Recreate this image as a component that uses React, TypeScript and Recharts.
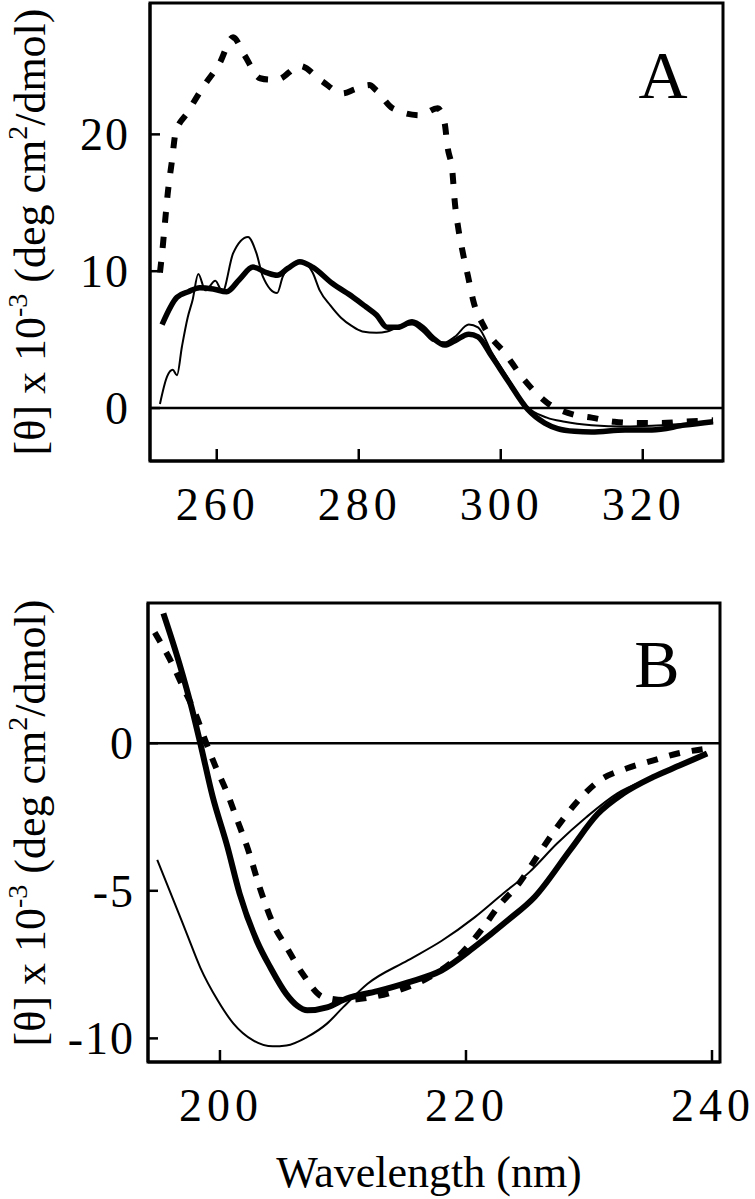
import {
  LineChart,
  Line,
  XAxis,
  YAxis,
  ReferenceLine,
  ReferenceArea,
} from "recharts";

// Panel A: near-UV CD spectra (wavelength nm, [theta] x 10^-3)
const nearUvDashed = [
  { nm: 252.0, v: 9.9 }, { nm: 252.3, v: 11.3 }, { nm: 252.7, v: 13.5 }, { nm: 253.1, v: 15.7 },
  { nm: 253.7, v: 18.1 }, { nm: 254.2, v: 20.1 }, { nm: 255.9, v: 21.6 }, { nm: 258.0, v: 23.4 },
  { nm: 260.4, v: 25.2 }, { nm: 262.3, v: 27.1 }, { nm: 263.9, v: 25.8 }, { nm: 266.1, v: 24.1 },
  { nm: 267.5, v: 24.0 }, { nm: 268.5, v: 24.0 }, { nm: 271.7, v: 25.0 }, { nm: 274.8, v: 23.9 },
  { nm: 277.7, v: 23.0 }, { nm: 279.5, v: 23.3 }, { nm: 281.5, v: 23.6 }, { nm: 282.5, v: 23.2 },
  { nm: 284.8, v: 21.9 }, { nm: 288.6, v: 21.4 }, { nm: 291.1, v: 21.9 }, { nm: 292.1, v: 20.8 },
  { nm: 292.5, v: 19.1 }, { nm: 293.2, v: 17.2 }, { nm: 293.5, v: 15.2 }, { nm: 294.0, v: 13.2 },
  { nm: 294.6, v: 11.5 }, { nm: 295.4, v: 9.6 }, { nm: 296.1, v: 7.9 }, { nm: 297.7, v: 5.9 },
  { nm: 300.6, v: 4.0 }, { nm: 303.4, v: 2.0 }, { nm: 306.5, v: 0.4 }, { nm: 310.4, v: -0.5 },
  { nm: 312.8, v: -0.7 }, { nm: 316.0, v: -1.0 }, { nm: 319.9, v: -1.1 }, { nm: 322.7, v: -1.1 },
  { nm: 325.9, v: -1.0 }, { nm: 329.9, v: -0.9 },
];

const nearUvThick = [
  { nm: 252.3, v: 6.1 }, { nm: 254.4, v: 8.1 }, { nm: 256.0, v: 8.5 }, { nm: 257.6, v: 8.8 },
  { nm: 259.5, v: 8.7 }, { nm: 261.4, v: 8.5 }, { nm: 263.2, v: 9.4 }, { nm: 265.1, v: 10.3 },
  { nm: 267.0, v: 9.9 }, { nm: 268.5, v: 9.7 }, { nm: 270.0, v: 10.2 }, { nm: 271.7, v: 10.7 },
  { nm: 273.5, v: 10.3 }, { nm: 276.3, v: 9.1 }, { nm: 279.2, v: 8.1 }, { nm: 281.0, v: 7.4 },
  { nm: 282.5, v: 6.8 }, { nm: 284.0, v: 5.9 }, { nm: 285.5, v: 5.9 }, { nm: 287.5, v: 6.3 },
  { nm: 289.0, v: 5.9 }, { nm: 290.5, v: 5.1 }, { nm: 292.1, v: 4.6 }, { nm: 293.5, v: 4.9 },
  { nm: 295.5, v: 5.4 }, { nm: 296.8, v: 5.2 }, { nm: 298.7, v: 3.8 }, { nm: 301.0, v: 2.0 },
  { nm: 303.8, v: -0.1 }, { nm: 306.2, v: -1.1 }, { nm: 308.0, v: -1.5 }, { nm: 310.4, v: -1.7 },
  { nm: 312.8, v: -1.75 }, { nm: 317.5, v: -1.6 }, { nm: 321.3, v: -1.6 }, { nm: 325.9, v: -1.25 },
  { nm: 329.9, v: -1.0 },
];

const nearUvThin = [
  { nm: 252.0, v: 0.3 }, { nm: 253.0, v: 2.3 }, { nm: 253.8, v: 2.8 }, { nm: 254.4, v: 2.4 },
  { nm: 255.1, v: 4.5 }, { nm: 255.9, v: 6.6 }, { nm: 256.6, v: 7.9 }, { nm: 257.4, v: 9.8 },
  { nm: 258.4, v: 8.6 }, { nm: 259.8, v: 9.3 }, { nm: 260.8, v: 8.5 }, { nm: 262.3, v: 11.3 },
  { nm: 264.4, v: 12.5 }, { nm: 265.6, v: 11.3 }, { nm: 266.5, v: 9.6 }, { nm: 268.5, v: 8.4 },
  { nm: 269.3, v: 9.6 }, { nm: 270.7, v: 10.5 }, { nm: 272.3, v: 10.6 }, { nm: 273.5, v: 9.9 },
  { nm: 274.5, v: 8.6 }, { nm: 276.0, v: 7.5 }, { nm: 277.5, v: 6.6 }, { nm: 279.0, v: 6.0 },
  { nm: 280.5, v: 5.6 }, { nm: 282.5, v: 5.5 }, { nm: 284.0, v: 5.6 }, { nm: 285.5, v: 5.9 },
  { nm: 287.5, v: 6.1 }, { nm: 289.0, v: 5.6 }, { nm: 290.5, v: 4.9 }, { nm: 292.1, v: 4.8 },
  { nm: 293.5, v: 5.2 }, { nm: 295.5, v: 6.1 }, { nm: 296.8, v: 5.9 }, { nm: 298.7, v: 4.1 },
  { nm: 301.0, v: 2.2 }, { nm: 303.5, v: 0.2 }, { nm: 306.5, v: -0.7 }, { nm: 309.0, v: -1.0 },
  { nm: 312.8, v: -1.25 }, { nm: 317.5, v: -1.35 }, { nm: 321.3, v: -1.3 }, { nm: 325.9, v: -1.15 },
  { nm: 329.9, v: -1.0 },
];

// Panel B: far-UV CD spectra
const farUvDashed = [
  { nm: 194.7, v: 3.75 }, { nm: 196.1, v: 2.7 }, { nm: 197.0, v: 1.9 }, { nm: 198.1, v: 0.9 },
  { nm: 198.8, v: 0.1 }, { nm: 199.6, v: -0.75 }, { nm: 200.6, v: -1.7 }, { nm: 201.4, v: -2.6 },
  { nm: 202.2, v: -3.5 }, { nm: 203.4, v: -5.1 }, { nm: 204.3, v: -6.1 }, { nm: 205.4, v: -6.9 },
  { nm: 206.7, v: -7.8 }, { nm: 208.4, v: -8.6 }, { nm: 210.3, v: -8.7 }, { nm: 212.4, v: -8.6 },
  { nm: 215.0, v: -8.3 }, { nm: 216.7, v: -8.0 }, { nm: 219.3, v: -7.25 }, { nm: 221.3, v: -6.3 },
  { nm: 222.6, v: -5.55 }, { nm: 224.4, v: -4.7 }, { nm: 226.0, v: -3.7 }, { nm: 227.4, v: -2.85 },
  { nm: 229.0, v: -2.0 }, { nm: 230.9, v: -1.25 }, { nm: 233.1, v: -0.85 }, { nm: 235.1, v: -0.6 },
  { nm: 237.2, v: -0.35 }, { nm: 239.3, v: -0.2 },
];

const farUvThick = [
  { nm: 195.4, v: 4.4 }, { nm: 196.7, v: 2.7 }, { nm: 197.7, v: 1.2 }, { nm: 198.4, v: 0 },
  { nm: 199.4, v: -1.8 }, { nm: 200.6, v: -3.5 }, { nm: 201.6, v: -5.1 }, { nm: 203.0, v: -6.7 },
  { nm: 204.1, v: -7.6 }, { nm: 205.4, v: -8.5 }, { nm: 206.3, v: -8.9 }, { nm: 207.1, v: -9.05 },
  { nm: 208.7, v: -8.95 }, { nm: 210.3, v: -8.65 }, { nm: 212.8, v: -8.4 }, { nm: 215.3, v: -8.1 },
  { nm: 218.0, v: -7.7 }, { nm: 220.7, v: -6.9 }, { nm: 223.4, v: -6.0 }, { nm: 225.6, v: -5.2 },
  { nm: 228.5, v: -3.6 }, { nm: 230.7, v: -2.4 }, { nm: 232.8, v: -1.7 }, { nm: 235.2, v: -1.15 },
  { nm: 237.4, v: -0.75 }, { nm: 239.6, v: -0.35 },
];

const farUvThin = [
  { nm: 194.9, v: -3.95 }, { nm: 196.2, v: -5.3 }, { nm: 197.3, v: -6.45 }, { nm: 198.4, v: -7.6 },
  { nm: 199.8, v: -8.7 }, { nm: 201.1, v: -9.5 }, { nm: 202.7, v: -10.07 }, { nm: 204.3, v: -10.27 },
  { nm: 205.4, v: -10.24 }, { nm: 207.1, v: -9.95 }, { nm: 208.7, v: -9.5 }, { nm: 210.0, v: -8.95 },
  { nm: 212.0, v: -8.15 }, { nm: 215.3, v: -7.35 }, { nm: 218.0, v: -6.7 }, { nm: 220.7, v: -5.9 },
  { nm: 223.0, v: -5.1 }, { nm: 225.2, v: -4.35 }, { nm: 227.4, v: -3.4 }, { nm: 229.8, v: -2.5 },
  { nm: 232.3, v: -1.7 }, { nm: 235.2, v: -1.15 }, { nm: 237.4, v: -0.75 }, { nm: 239.6, v: -0.35 },
];

const ticksAX = [260, 280, 300, 320];
const ticksAY = [0, 10, 20];
const ticksBX = [200, 220, 240];
const ticksBY = [-10, -5, 0];

const SERIF = '"Liberation Serif", "Times New Roman", serif';

const XTick = (props: any) => {
  const { x, y, payload } = props;
  return (
    <g>
      <line x1={x} y1={y} x2={x} y2={y - 12} stroke="#000" strokeWidth={2.5} />
      <text x={x + 1} y={y + 59} textAnchor="middle" fontFamily={SERIF} fontSize={46} letterSpacing={5} fill="#000">
        {payload.value}
      </text>
    </g>
  );
};

const makeYTick = (gap: number) => (props: any) => {
  const { x, y, payload } = props;
  return (
    <g>
      <line x1={x} y1={y} x2={x + 10} y2={y} stroke="#000" strokeWidth={2.5} />
      <text x={x - gap} y={y} dy="0.35em" textAnchor="end" fontFamily={SERIF} fontSize={46} letterSpacing={2} fill="#000">
        {payload.value}
      </text>
    </g>
  );
};

const YTitle = (cy: number) => () => (
  <text
    transform={`translate(45, ${cy}) rotate(-90)`}
    textAnchor="middle"
    fontFamily={SERIF}
    fontSize={44}
    fill="#000"
  >
    [θ] x 10
    <tspan fontSize={28} dy={-18}>-3</tspan>
    <tspan dy={18}> (deg cm</tspan>
    <tspan fontSize={28} dy={-18}>2</tspan>
    <tspan dy={18}>/dmol)</tspan>
  </text>
);

const PanelLetter = (letter: string, x: number, y: number) => () => (
  <text x={x} y={y} textAnchor="middle" fontFamily={SERIF} fontSize={68} fill="#000">
    {letter}
  </text>
);

const WavelengthTitle = () => (
  <text x={429} y={627} textAnchor="middle" fontFamily={SERIF} fontSize={44} fill="#000">
    Wavelength (nm)
  </text>
);

const domAX: [number, number] = [250.6, 331.3];
const domAY: [number, number] = [-3.87, 29.6];
const domBX: [number, number] = [194.15, 240.65];
const domBY: [number, number] = [-10.8, 4.75];

export default function CDSpectra() {
  return (
    <div style={{ position: "absolute", left: 0, top: 0, width: 755, height: 1199, background: "#fff" }}>
      <div style={{ position: "absolute", left: 0, top: 0 }}>
        <LineChart width={755} height={560} margin={{ top: 3, right: 32, left: 0, bottom: 0 }}>
          <XAxis
            dataKey="nm"
            type="number"
            domain={domAX}
            allowDataOverflow
            ticks={ticksAX}
            interval={0}
            height={99}
            tickSize={0}
            tickMargin={0}
            tickLine={false}
            axisLine={{ stroke: "#000", strokeWidth: 3 }}
            tick={XTick}
          />
          <YAxis
            type="number"
            domain={domAY}
            allowDataOverflow
            ticks={ticksAY}
            interval={0}
            width={150}
            tickSize={0}
            tickMargin={0}
            tickLine={false}
            axisLine={{ stroke: "#000", strokeWidth: 3 }}
            tick={makeYTick(20)}
            label={YTitle(232)}
          />
          <ReferenceArea
            x1={domAX[0]}
            x2={domAX[1]}
            y1={domAY[0]}
            y2={domAY[1]}
            fill="none"
            stroke="#000"
            strokeWidth={3}
            label={PanelLetter("A", 663, 98)}
          />
          <ReferenceLine y={0} stroke="#000" strokeWidth={2.5} />
          <Line data={nearUvDashed} dataKey="v" type="monotone" stroke="#000" strokeWidth={6}
            strokeDasharray="11 14" dot={false} activeDot={false} isAnimationActive={false} />
          <Line data={nearUvThick} dataKey="v" type="monotone" stroke="#000" strokeWidth={5.5}
            dot={false} activeDot={false} isAnimationActive={false} />
          <Line data={nearUvThin} dataKey="v" type="monotone" stroke="#000" strokeWidth={2}
            dot={false} activeDot={false} isAnimationActive={false} />
        </LineChart>
      </div>
      <div style={{ position: "absolute", left: 0, top: 560 }}>
        <LineChart width={755} height={639} margin={{ top: 43, right: 35, left: 0, bottom: 0 }}>
          <XAxis
            dataKey="nm"
            type="number"
            domain={domBX}
            allowDataOverflow
            ticks={ticksBX}
            interval={0}
            height={137}
            tickSize={0}
            tickMargin={0}
            tickLine={false}
            axisLine={{ stroke: "#000", strokeWidth: 3 }}
            tick={XTick}
            label={WavelengthTitle}
          />
          <YAxis
            type="number"
            domain={domBY}
            allowDataOverflow
            ticks={ticksBY}
            interval={0}
            width={148}
            tickSize={0}
            tickMargin={0}
            tickLine={false}
            axisLine={{ stroke: "#000", strokeWidth: 3 }}
            tick={makeYTick(13)}
            label={YTitle(263)}
          />
          <ReferenceArea
            x1={domBX[0]}
            x2={domBX[1]}
            y1={domBY[0]}
            y2={domBY[1]}
            fill="none"
            stroke="#000"
            strokeWidth={3}
            label={PanelLetter("B", 657, 127)}
          />
          <ReferenceLine y={0} stroke="#000" strokeWidth={2.5} />
          <Line data={farUvDashed} dataKey="v" type="monotone" stroke="#000" strokeWidth={6}
            strokeDasharray="11 12" dot={false} activeDot={false} isAnimationActive={false} />
          <Line data={farUvThick} dataKey="v" type="monotone" stroke="#000" strokeWidth={6}
            dot={false} activeDot={false} isAnimationActive={false} />
          <Line data={farUvThin} dataKey="v" type="monotone" stroke="#000" strokeWidth={2}
            dot={false} activeDot={false} isAnimationActive={false} />
        </LineChart>
      </div>
    </div>
  );
}
